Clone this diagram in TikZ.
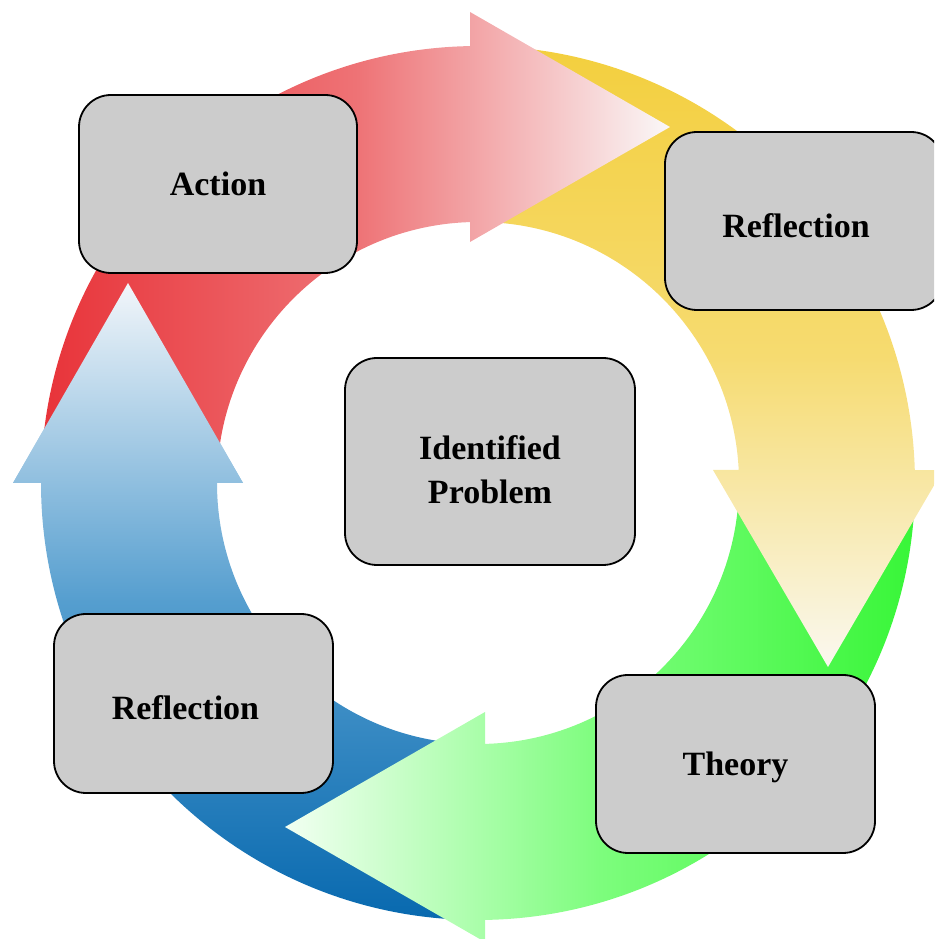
\documentclass[tikz,border=0pt]{standalone}
\usepackage{fontspec}
\setmainfont{Liberation Serif}

\definecolor{redA}{RGB}{232,51,57}
\definecolor{redB}{RGB}{238,114,117}
\definecolor{redC}{RGB}{250,248,248}
\definecolor{yelA}{RGB}{243,207,62}
\definecolor{yelB}{RGB}{246,219,112}
\definecolor{yelC}{RGB}{250,248,240}
\definecolor{grnA}{RGB}{56,246,56}
\definecolor{grnB}{RGB}{125,253,125}
\definecolor{grnC}{RGB}{242,255,242}
\definecolor{bluA}{RGB}{8,105,175}
\definecolor{bluB}{RGB}{85,158,207}
\definecolor{bluC}{RGB}{242,246,250}
\definecolor{boxgray}{RGB}{204,204,204}

\tikzset{
  redarrow/.style={left color=redA, right color=redC, middle color=redB},
  yelarrow/.style={top color=yelA, bottom color=yelC, middle color=yelB},
  grnarrow/.style={right color=grnA, left color=grnC, middle color=grnB},
  bluarrow/.style={bottom color=bluA, top color=bluC, middle color=bluB},
  stagebox/.style={rectangle, rounded corners=32pt, fill=boxgray, draw=black,
    line width=1.8pt, minimum width=278pt, minimum height=178pt, inner sep=0pt,
    font=\fontsize{34}{44}\selectfont\bfseries},
  oneline/.style={text height=22.5pt, text depth=0pt},
}

\begin{document}
\begin{tikzpicture}[x=1pt,y=1pt]
\useasboundingbox (0,0) rectangle (934,939);
\clip (0,0) rectangle (934,939);

% ring centre (478,456); outer radius 437, inner radius 261
% blue arrow: bottom towards the left, head pointing up
\path[bluarrow] (478,19) arc[start angle=270, end angle=180, radius=437]
  -- (13,456) -- (128,656) -- (243,456) -- (217,456)
  arc[start angle=180, end angle=270, radius=261] -- cycle;

% green arrow: right side down to the bottom, head pointing left
\path[grnarrow] (915,456) arc[start angle=360, end angle=270.92, radius=437]
  -- (485,-3) -- (285,112) -- (485,227) -- (485,195.1)
  arc[start angle=271.54, end angle=360, radius=261] -- cycle;

% yellow arrow: top down the right side, head pointing down
\path[yelarrow] (478,893) arc[start angle=90, end angle=1.70, radius=437]
  -- (943,469) -- (828,272) -- (713,469) -- (738.7,469)
  arc[start angle=2.85, end angle=90, radius=261] -- cycle;

% red arrow: left side up to the top, head pointing right
\path[redarrow] (41,456) arc[start angle=180, end angle=91.05, radius=437]
  -- (470,927) -- (670,812) -- (470,697) -- (470,716.9)
  arc[start angle=91.76, end angle=180, radius=261] -- cycle;

% the blue head lies over the start of the red arrow
\begin{scope}
  \clip (13,456) -- (128,656) -- (243,456) -- cycle;
  \path[bluarrow] (478,19) arc[start angle=270, end angle=180, radius=437]
    -- (13,456) -- (128,656) -- (243,456) -- (217,456)
    arc[start angle=180, end angle=270, radius=261] -- cycle;
\end{scope}

% stages of the cycle
\node[stagebox, oneline] (action) at (218,755) {Action};
\node[stagebox, text height=32.5pt, text depth=0pt] (reflectA) at (804,718) {Reflection\hspace*{16pt}};
\node[stagebox, oneline, minimum width=279pt] (theory) at (735.5,175) {Theory};
\node[stagebox, text height=32.5pt, text depth=0pt, minimum width=279pt, minimum height=179pt] (reflectB) at (193.5,235.5) {Reflection\hspace*{16pt}};
\node[stagebox, align=center, minimum width=290pt, minimum height=207pt] (problem) at (490,477.5)
  {\rule{0pt}{41pt}Identified\\Problem};
\end{tikzpicture}
\end{document}
